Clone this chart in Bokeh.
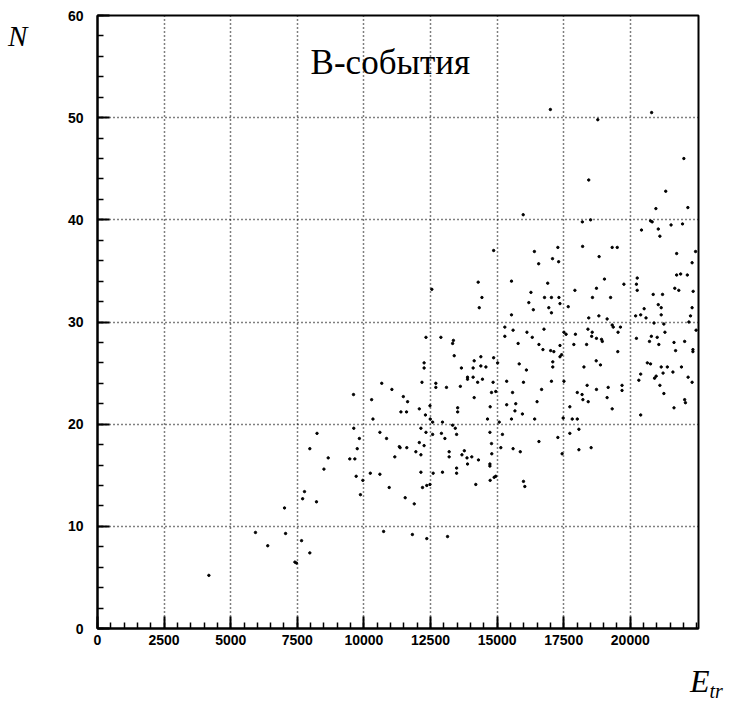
from bokeh.plotting import figure
from bokeh.models import FixedTicker, Label, Range1d, Div
from bokeh.layouts import row, column
from bokeh.embed import file_html
from bokeh.resources import INLINE

# ---- data ----
E_tr = [
    9610, 8240, 7970, 9620, 9830, 9750, 8660, 9470, 9660, 8500, 9710, 9960, 9870, 7770, 7700, 8220,
    7020, 5930, 7060, 6390, 7660, 7410, 7470, 7970, 4180,
    10740, 11820, 12360, 13140, 10950, 11550, 11890, 12200, 12360, 12480, 14200, 14740, 14890, 14950,
    15990, 16040,
    17000, 18780, 20800, 22010, 18440,
    15980, 14870, 15540, 14290, 16270, 12550, 14430, 16190, 14330, 15540, 15290, 15600,
    21330, 20960, 22160, 18200, 18510, 20760, 20820, 21530, 21960, 20420, 21050, 21110, 22450,
    16400, 18210, 17280, 19320, 19510, 21740, 16560, 17080, 17310, 18830, 22320, 21740, 21890,
    22140, 19030, 20260, 20230, 16900, 17920, 18730, 19760, 20260, 21670, 21820, 22360, 20860,
    21210, 16780, 17040, 17320, 18580, 19260, 16360, 16940, 17360, 17670, 17040, 20520, 21050,
    21160, 22320, 18440, 18820, 19130, 19320, 19360, 19630, 20200, 20390, 20590, 20890, 21160,
    21260, 22260, 22200, 16760, 18410,
    12890, 12330, 13360, 13330, 13390, 15290, 16120, 15790, 14390, 14140, 14870, 15020, 15830,
    14390, 14580, 12260, 12260, 13660, 14100, 13890, 13890, 14100, 14270, 14450, 14850, 15360,
    15990, 16100, 12180, 12700, 12700, 13100, 13620, 10670, 11050, 10290, 11480, 11640, 14950,
    14790, 15580, 14140, 14740, 15360, 15700, 13520, 13520, 12080, 11390, 11600, 12310, 12480,
    15540, 15670, 15950, 10340, 12490, 14640, 12580, 12950, 13330, 15080, 12140, 12330, 12580,
    12910, 13040, 13430, 13480, 10600, 10850, 11330, 11360, 11610, 12080, 12260, 11950, 12140,
    11160, 13200, 13200, 13770, 13680, 13870, 14050, 13890, 14300, 15200, 14730, 14790, 15140,
    15600, 15870, 14800, 14730, 14730, 13480, 13480, 12950, 12600, 12140, 10240, 10600,
    16320, 17510, 17590, 17940, 18570, 18550, 18730, 18920, 18950, 19540, 20230, 20790, 20720,
    21010, 21300, 21070, 21640, 22040, 21700, 22350, 22350, 22470, 16570, 16720, 17010, 17130,
    17360, 17880, 18360, 17360, 17420, 19530, 17090, 17090, 18720, 18880, 18260, 20640, 20760,
    21160, 21390, 21920, 20390, 20320, 20970, 20910, 21230, 21600, 22170, 22320, 21110, 21260,
    17040, 17510, 16670, 18380, 18010, 18190, 18730, 19170, 19690, 19690, 18220, 18420, 19130,
    16500, 17730, 19320, 16410, 17480, 17820, 18010, 21640, 20390, 22040, 22070, 18070, 17280,
    17730, 16570, 18530, 18070, 17440,
]
N = [
    22.9, 19.1, 17.6, 19.6, 18.6, 17.6, 16.7, 16.6, 16.6, 15.6, 14.9, 14.5, 13.1, 13.4, 12.7, 12.4,
    11.8, 9.4, 9.3, 8.1, 8.6, 6.5, 6.4, 7.4, 5.2,
    9.5, 9.2, 8.8, 9.0, 13.8, 12.8, 12.2, 13.8, 14.0, 14.1, 14.1, 14.5, 14.8, 14.9,
    14.4, 13.9,
    50.8, 49.8, 50.5, 46.0, 43.9,
    40.5, 37.0, 34.0, 33.9, 32.9, 33.2, 32.4, 31.9, 31.4, 30.7, 29.5, 29.2,
    42.8, 41.1, 41.2, 39.8, 40.0, 39.9, 39.8, 39.5, 39.6, 39.0, 39.1, 38.4, 36.9,
    36.9, 37.4, 37.3, 37.3, 37.3, 36.7, 35.7, 36.2, 35.9, 36.4, 35.8, 34.6, 34.7,
    34.6, 34.2, 34.3, 33.7, 33.8, 33.1, 33.3, 33.7, 33.1, 33.3, 33.1, 33.0, 32.7,
    32.7, 32.4, 32.4, 32.4, 32.4, 32.4, 31.2, 31.4, 31.8, 31.5, 30.9, 31.3, 31.7,
    31.4, 31.4, 30.4, 30.6, 30.3, 29.7, 29.5, 29.5, 30.6, 30.7, 30.4, 29.9, 30.7,
    29.8, 30.6, 30.0, 29.3, 29.3,
    28.5, 28.5, 28.2, 27.9, 26.7, 28.6, 29.0, 27.9, 26.6, 26.2, 26.5, 26.0, 25.9,
    25.7, 25.6, 26.0, 25.5, 25.5, 25.5, 24.6, 24.4, 24.6, 24.1, 24.4, 24.1, 24.2,
    24.1, 25.3, 24.1, 24.0, 23.6, 23.6, 23.7, 24.0, 23.4, 22.4, 22.7, 22.2, 23.2,
    23.1, 23.1, 22.6, 21.7, 21.9, 22.0, 21.6, 21.2, 21.5, 21.2, 21.2, 20.9, 21.8,
    20.5, 21.3, 21.0, 20.5, 20.5, 20.5, 20.2, 20.2, 19.9, 20.2, 19.6, 19.2, 19.0,
    19.1, 18.6, 19.6, 19.0, 19.2, 18.6, 17.8, 17.7, 17.7, 18.2, 17.9, 17.3, 17.0,
    16.8, 17.3, 16.8, 17.4, 17.0, 16.7, 16.8, 16.1, 16.5, 19.0, 19.2, 18.1, 17.7,
    17.6, 17.3, 17.1, 16.1, 15.9, 15.7, 15.2, 15.3, 15.2, 15.3, 15.2, 15.1,
    28.5, 29.0, 28.8, 28.8, 29.0, 28.6, 28.4, 28.3, 28.1, 29.0, 28.4, 28.6, 28.1,
    28.5, 29.0, 27.8, 28.0, 28.1, 27.2, 27.3, 27.1, 29.2, 27.8, 27.3, 27.2, 27.1,
    27.7, 27.8, 27.8, 26.6, 26.8, 27.1, 26.1, 25.6, 26.2, 25.8, 25.6, 26.0, 25.9,
    25.6, 25.6, 25.6, 24.9, 24.3, 24.7, 24.5, 25.0, 25.1, 24.6, 24.1, 23.8, 23.0,
    24.2, 24.2, 23.4, 23.8, 23.1, 22.9, 23.4, 23.6, 23.8, 23.3, 22.4, 22.2, 22.6,
    22.2, 21.7, 21.5, 20.5, 20.6, 20.5, 20.5, 21.6, 20.9, 22.4, 22.1, 19.5, 18.7,
    19.1, 18.3, 17.7, 17.5, 17.1,
]
x_major = [0, 2500, 5000, 7500, 10000, 12500, 15000, 17500, 20000]
x_minor = [v for v in range(0, 22501, 500)]
y_major = [0, 10, 20, 30, 40, 50, 60]
y_minor = [v for v in range(0, 61, 2)]
title_text = "B-события"
y_name = "N"
x_name = "E"
x_sub = "tr"

p = figure(width=674, height=660, output_backend="svg", toolbar_location=None,
           x_range=Range1d(0, 22560), y_range=Range1d(0, 60),
           min_border_left=37, min_border_right=36, min_border_top=15, min_border_bottom=32)
p.background_fill_color = "white"
p.border_fill_color = "white"
p.outline_line_color = "black"
p.outline_line_width = 2

for ax, maj, mn in ((p.xaxis[0], x_major, x_minor), (p.yaxis[0], y_major, y_minor)):
    ax.ticker = FixedTicker(ticks=maj, minor_ticks=mn)
    ax.major_tick_in = 12
    ax.major_tick_out = 0
    ax.minor_tick_in = 6
    ax.minor_tick_out = 0
    ax.axis_line_width = 2
    ax.major_tick_line_width = 2
    ax.minor_tick_line_width = 1.5
    ax.axis_line_color = "black"
    ax.major_tick_line_color = "black"
    ax.minor_tick_line_color = "black"
    ax.major_label_text_font = "Liberation Sans"
    ax.major_label_text_font_style = "bold"
    ax.major_label_text_font_size = "14px"
    ax.major_label_text_color = "black"
p.xaxis[0].major_label_standoff = 6
p.yaxis[0].major_label_standoff = 14

for g in (p.xgrid[0], p.ygrid[0]):
    g.grid_line_color = "black"
    g.grid_line_dash = "1 3"
    g.grid_line_width = 1.5
p.xgrid[0].ticker = FixedTicker(ticks=x_major[1:])
p.ygrid[0].ticker = FixedTicker(ticks=y_major[1:])

p.scatter(E_tr, N, size=2.4, color="black", marker="circle")

p.add_layout(Label(x=8000, y=55.4, text=title_text, text_font="Liberation Serif",
                   text_font_size="35px", text_color="black", text_baseline="alphabetic"))

serif = "'Liberation Serif', 'DejaVu Serif', serif"
div_n = Div(text=f'<span style="font-family:{serif};font-style:italic;font-size:29px;'
                 f'line-height:29px;color:black;">{y_name}</span>',
            width=60, height=660, margin=0,
            styles={"padding-left": "8px", "padding-top": "22px", "box-sizing": "border-box"})
div_e = Div(text=f'<span style="font-family:{serif};font-style:italic;font-size:32px;'
                 f'line-height:32px;color:black;">{x_name}<span style="font-size:20px;'
                 f'position:relative;top:6px;">{x_sub}</span></span>',
            width=734, height=41, margin=0,
            styles={"padding-left": "690px", "padding-top": "5px", "box-sizing": "border-box"})

layout = column(row(div_n, p, spacing=0), div_e, spacing=0)

open("out.html", "w").write(file_html(layout, INLINE))
